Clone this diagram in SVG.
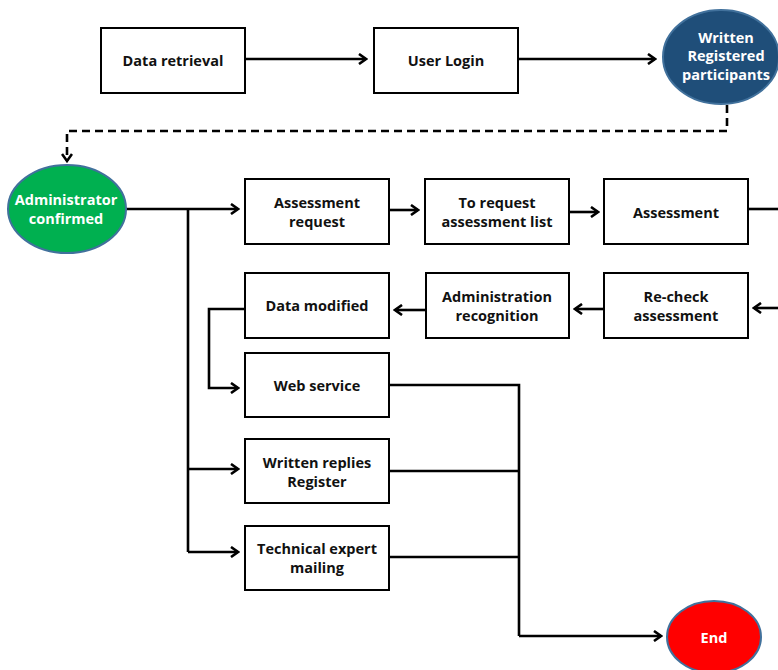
<svg xmlns="http://www.w3.org/2000/svg" width="778" height="670" viewBox="0 0 778 670">
<defs>
<marker id="ah" markerWidth="12" markerHeight="12" refX="10" refY="6" orient="auto" markerUnits="userSpaceOnUse">
<path d="M3,1 L10,6 L3,11" fill="none" stroke="#000" stroke-width="2.6"/>
</marker>
<style>
.box{fill:#fff;stroke:#000;stroke-width:2}
.t{font-family:"Open Sans","Noto Sans",sans-serif;font-weight:bold;font-size:14.5px;fill:#111;text-anchor:middle}
.w{fill:#fff}
.c{fill:none;stroke:#000;stroke-width:2.6}
.a{marker-end:url(#ah)}
.d{stroke-dasharray:8,5}
.el{stroke:#41719C;stroke-width:2}
</style>
</defs>
<rect width="778" height="670" fill="#fff"/>
<g id="connectors">
<path class="c a" d="M245,59 H366"/>
<path class="c a" d="M518,59 H655"/>
<path class="c a d" d="M727,105 V131 H67 V161"/>
<path class="c a" d="M126,209 H238"/>
<path class="c" d="M188,209 V552"/>
<path class="c a" d="M188,469 H238"/>
<path class="c a" d="M188,552 H238"/>
<path class="c a" d="M389,210 H418"/>
<path class="c a" d="M569,212 H598"/>
<path class="c" d="M748,209 H778"/>
<path class="c a" d="M778,308 H754"/>
<path class="c a" d="M604,309 H575"/>
<path class="c a" d="M426,310 H395"/>
<path class="c a" d="M245,309 H209 V388 H238"/>
<path class="c" d="M389,385 H519 V636"/>
<path class="c" d="M389,471 H519"/>
<path class="c" d="M389,557 H519"/>
<path class="c a" d="M519,636 H661"/>
</g>
<g id="n_data_retrieval"><rect class="box" x="101" y="28" width="144" height="65"/><text class="t" x="173" y="66">Data retrieval</text></g>
<g id="n_user_login"><rect class="box" x="374" y="28" width="144" height="65"/><text class="t" x="446" y="66">User Login</text></g>
<g id="n_written_registered"><ellipse class="el" cx="721" cy="57" rx="58" ry="47" fill="#1F4E79"/><text class="t w" x="726" y="43">Written</text><text class="t w" x="726" y="61">Registered</text><text class="t w" x="726" y="80">participants</text></g>
<g id="n_admin_confirmed"><ellipse class="el" cx="67" cy="209" rx="59" ry="44" fill="#00B050"/><text class="t w" x="66" y="205">Administrator</text><text class="t w" x="66" y="224">confirmed</text></g>
<g id="n_assessment_request"><rect class="box" x="245" y="179" width="144" height="65"/><text class="t" x="317" y="208">Assessment</text><text class="t" x="317" y="227">request</text></g>
<g id="n_to_request_list"><rect class="box" x="425" y="179" width="144" height="65"/><text class="t" x="497" y="208">To request</text><text class="t" x="497" y="227">assessment list</text></g>
<g id="n_assessment"><rect class="box" x="604" y="179" width="144" height="65"/><text class="t" x="676" y="218">Assessment</text></g>
<g id="n_recheck"><rect class="box" x="604" y="273" width="144" height="65"/><text class="t" x="676" y="302">Re-check</text><text class="t" x="676" y="321">assessment</text></g>
<g id="n_admin_recognition"><rect class="box" x="426" y="273" width="143" height="65"/><text class="t" x="497" y="302">Administration</text><text class="t" x="497" y="321">recognition</text></g>
<g id="n_data_modified"><rect class="box" x="245" y="273" width="144" height="65"/><text class="t" x="317" y="311">Data modified</text></g>
<g id="n_web_service"><rect class="box" x="245" y="353" width="144" height="64"/><text class="t" x="317" y="391">Web service</text></g>
<g id="n_written_replies"><rect class="box" x="245" y="439" width="144" height="64"/><text class="t" x="317" y="468">Written replies</text><text class="t" x="317" y="487">Register</text></g>
<g id="n_technical_expert"><rect class="box" x="245" y="526" width="144" height="64"/><text class="t" x="317" y="554">Technical expert</text><text class="t" x="317" y="573">mailing</text></g>
<g id="n_end"><ellipse class="el" cx="714" cy="637" rx="47" ry="36" fill="#FF0000"/><text class="t w" x="714" y="643">End</text></g>
</svg>
